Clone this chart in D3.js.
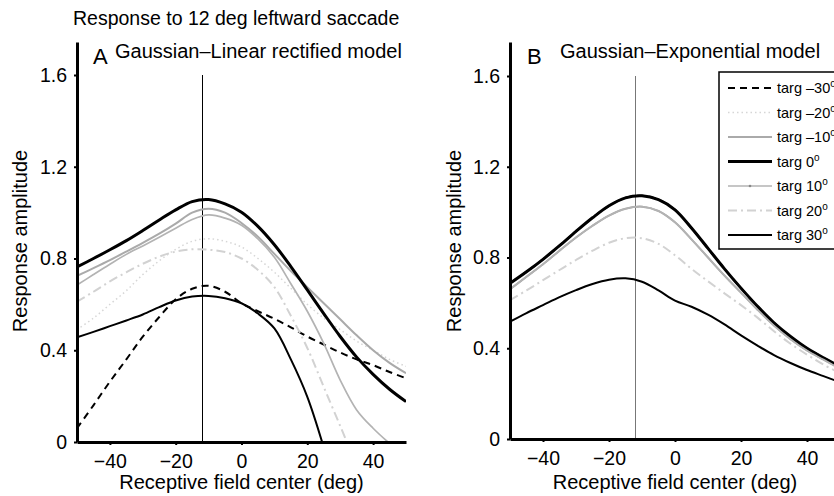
<!DOCTYPE html>
<html>
<head>
<meta charset="utf-8">
<script src="https://cdn.jsdelivr.net/npm/d3@7"></script>
<style>
  body { margin: 0; background: #fff; }
  text { font-family: "Liberation Sans", Arial, Helvetica, sans-serif; fill: #000; }
</style>
</head>
<body>
<script>
// Receptive field centres (deg) where the curves were read
const rfCenter = [-50, -45, -40, -35, -30, -25, -20, -15, -10, -5, 0, 5, 10, 15, 20, 25, 30, 35, 40, 45, 50];

const targetLabels = ["targ \u201330", "targ \u201320", "targ \u201310", "targ 0", "targ 10", "targ 20", "targ 30"];

// Panel A: Gaussian-Linear rectified model (null = rectified to zero)
const linTargM30 = [0.06, 0.16, 0.263, 0.36, 0.459, 0.545, 0.622, 0.668, 0.681, 0.655, 0.605, 0.57, 0.537, 0.50, 0.46, 0.425, 0.39, 0.36, 0.335, 0.305, 0.278];
const linTargM20 = [0.49, 0.54, 0.60, 0.66, 0.73, 0.79, 0.84, 0.875, 0.886, 0.875, 0.85, 0.80, 0.74, 0.67, 0.60, 0.54, 0.49, 0.44, 0.40, 0.36, 0.33];
const linTargM10 = [0.724, 0.758, 0.793, 0.83, 0.868, 0.908, 0.952, 1.0, 1.017, 1.0, 0.955, 0.895, 0.82, 0.745, 0.675, 0.605, 0.535, 0.465, 0.40, 0.345, 0.30];
const linTarg0   = [0.763, 0.80, 0.838, 0.878, 0.922, 0.968, 1.012, 1.048, 1.057, 1.038, 1.002, 0.94, 0.86, 0.765, 0.663, 0.56, 0.46, 0.37, 0.295, 0.23, 0.176];
const linTargP10 = [0.684, 0.73, 0.775, 0.818, 0.855, 0.893, 0.932, 0.97, 0.99, 0.976, 0.945, 0.885, 0.805, 0.69, 0.57, 0.43, 0.27, 0.14, 0.06, null, null];
const linTargP20 = [0.612, 0.655, 0.70, 0.74, 0.777, 0.808, 0.83, 0.84, 0.838, 0.828, 0.80, 0.75, 0.675, 0.55, 0.41, 0.24, 0.07, null, null, null, null];
const linTargP30 = [0.456, 0.48, 0.505, 0.53, 0.556, 0.588, 0.617, 0.634, 0.637, 0.627, 0.605, 0.56, 0.495, 0.36, 0.197, null, null, null, null, null, null];
// where each rectified curve reaches zero
const linZeroAt = [null, null, null, null, 44.5, 32, 24.5];

// Panel B: Gaussian-Exponential model
const expTargM30 = [0.686, 0.737, 0.792, 0.852, 0.915, 0.975, 1.028, 1.063, 1.072, 1.055, 1.01, 0.93, 0.84, 0.75, 0.665, 0.585, 0.512, 0.452, 0.40, 0.358, 0.32];
const expTargM20 = [0.66, 0.715, 0.77, 0.83, 0.888, 0.94, 0.985, 1.015, 1.024, 1.005, 0.955, 0.88, 0.80, 0.72, 0.645, 0.57, 0.50, 0.44, 0.39, 0.35, 0.31];
const expTargM10 = [0.66, 0.715, 0.77, 0.83, 0.888, 0.94, 0.985, 1.015, 1.024, 1.005, 0.955, 0.88, 0.80, 0.72, 0.645, 0.57, 0.50, 0.44, 0.39, 0.35, 0.31];
const expTarg0   = [0.686, 0.737, 0.792, 0.852, 0.915, 0.975, 1.028, 1.063, 1.072, 1.055, 1.01, 0.93, 0.84, 0.75, 0.665, 0.585, 0.512, 0.452, 0.40, 0.358, 0.32];
const expTargP10 = [0.66, 0.715, 0.77, 0.83, 0.888, 0.94, 0.985, 1.015, 1.024, 1.005, 0.955, 0.88, 0.80, 0.72, 0.645, 0.57, 0.50, 0.44, 0.39, 0.35, 0.31];
const expTargP20 = [0.612, 0.655, 0.70, 0.745, 0.789, 0.83, 0.865, 0.885, 0.885, 0.86, 0.81, 0.75, 0.695, 0.642, 0.59, 0.535, 0.475, 0.42, 0.372, 0.328, 0.29];
const expTargP30 = [0.517, 0.555, 0.59, 0.625, 0.656, 0.683, 0.702, 0.708, 0.693, 0.655, 0.61, 0.583, 0.548, 0.505, 0.457, 0.412, 0.37, 0.335, 0.304, 0.277, 0.25];
const expZeroAt = [null, null, null, null, null, null, null];

const saccadeX = -12;
const xTicks = [-40, -20, 0, 20, 40];
const yTicks = [0, 0.4, 0.8, 1.2, 1.6];

// line styles, one per target
const styles = [
    { stroke: "#000", width: 2, dash: "7,5" },
    { stroke: "#d6d6d6", width: 1.5, dash: "1.5,3" },
    { stroke: "#aaa", width: 2, dash: null },
    { stroke: "#000", width: 3, dash: null },
    { stroke: "#b3b3b3", width: 1.7, dash: null },
    { stroke: "#d2d2d2", width: 2, dash: "9,4,2,4" },
    { stroke: "#000", width: 2, dash: null }
];

const width = 834, height = 496;
const svg = d3.select("body")
    .append("svg")
    .attr("width", width)
    .attr("height", height);

svg.append("text")
    .attr("x", 73)
    .attr("y", 25)
    .attr("font-size", 19.5)
    .text("Response to 12 deg leftward saccade");

const panels = [
    { left: 77, right: 406, zeroY: 442, topY: 75, axisTop: 42,
      series: [linTargM30, linTargM20, linTargM10, linTarg0, linTargP10, linTargP20, linTargP30],
      zeroAt: linZeroAt, letter: "A", letterX: 93, title: "Gaussian\u2013Linear rectified model", titleX: 115,
      vline: "#000", ylabelX: 27 },
    { left: 510, right: 840, zeroY: 439, topY: 76, axisTop: 42,
      series: [expTargM30, expTargM20, expTargM10, expTarg0, expTargP10, expTargP20, expTargP30],
      zeroAt: expZeroAt, letter: "B", letterX: 527, title: "Gaussian\u2013Exponential model", titleX: 560,
      vline: "#777", ylabelX: 461 }
];

panels.forEach((p, pi) => {
    const x = d3.scaleLinear().domain([-50, 50]).range([p.left, p.right]);
    const y = d3.scaleLinear().domain([0, 1.6]).range([p.zeroY, p.topY]);
    const yAxisScale = y.copy().domain([0, y.invert(p.axisTop)]).range([p.zeroY, p.axisTop]);

    const g = svg.append("g");

    // clip to plot area
    g.append("clipPath").attr("id", `clip${pi}`)
        .append("rect")
        .attr("x", p.left).attr("y", p.axisTop)
        .attr("width", p.right - p.left).attr("height", p.zeroY - p.axisTop);

    // vertical line at the saccade amplitude
    g.append("line")
        .attr("x1", x(saccadeX)).attr("x2", x(saccadeX))
        .attr("y1", y(1.6)).attr("y2", y(0))
        .attr("stroke", p.vline)
        .attr("stroke-width", 1)
        .attr("shape-rendering", "crispEdges");

    const line = d3.line()
        .x(d => x(d[0]))
        .y(d => y(d[1]))
        .curve(d3.curveCatmullRom.alpha(0.5));

    const curves = g.append("g").attr("clip-path", `url(#clip${pi})`);
    p.series.forEach((vals, i) => {
        const pts = rfCenter.map((c, j) => [c, vals[j]]).filter(d => d[1] !== null);
        if (p.zeroAt[i] !== null) pts.push([p.zeroAt[i], 0]);
        curves.append("path")
            .datum(pts)
            .attr("d", line)
            .attr("fill", "none")
            .attr("stroke", styles[i].stroke)
            .attr("stroke-width", styles[i].width)
            .attr("stroke-dasharray", styles[i].dash);
    });

    // axes
    const xAxis = g.append("g")
        .attr("transform", `translate(0,${p.zeroY})`)
        .call(d3.axisBottom(x).tickValues(xTicks).tickSize(3).tickSizeOuter(0).tickPadding(9));
    const yAxis = g.append("g")
        .attr("transform", `translate(${p.left},0)`)
        .call(d3.axisLeft(yAxisScale).tickValues(yTicks).tickSize(3).tickSizeOuter(0).tickPadding(7)
            .tickFormat(d => d === 0 ? "0" : d3.format(".1f")(d)));
    [xAxis, yAxis].forEach(a => {
        a.select(".domain").attr("stroke", "#000").attr("stroke-width", 3);
        a.selectAll(".tick line").attr("stroke", "#000").attr("stroke-width", 2);
        a.selectAll(".tick text").attr("font-size", 19.5).attr("fill", "#000")
            .attr("font-family", "Liberation Sans, Arial, sans-serif");
    });

    // panel letter and title
    g.append("text").attr("x", p.letterX).attr("y", 64).attr("font-size", 22).text(p.letter);
    g.append("text").attr("x", p.titleX).attr("y", 58).attr("font-size", 20).text(p.title);

    // axis labels
    g.append("text")
        .attr("transform", `translate(${p.ylabelX},241) rotate(-90)`)
        .attr("text-anchor", "middle")
        .attr("font-size", 20)
        .text("Response amplitude");
    g.append("text")
        .attr("x", x(0))
        .attr("y", 489)
        .attr("text-anchor", "middle")
        .attr("font-size", 20)
        .text("Receptive field center (deg)");
});

// Legend (panel B)
const legend = svg.append("g");
legend.append("rect")
    .attr("x", 719).attr("y", 72)
    .attr("width", 140).attr("height", 177)
    .attr("fill", "#fff")
    .attr("stroke", "#000")
    .attr("stroke-width", 1.5);

targetLabels.forEach((lab, i) => {
    const ly = 88 + i * 24.5;
    legend.append("line")
        .attr("x1", 728).attr("x2", 772)
        .attr("y1", ly).attr("y2", ly)
        .attr("stroke", styles[i].stroke)
        .attr("stroke-width", styles[i].width)
        .attr("stroke-dasharray", styles[i].dash);
    if (i === 4) {
        legend.append("circle").attr("cx", 750).attr("cy", ly).attr("r", 1.3).attr("fill", "#888");
    }
    const t = legend.append("text")
        .attr("x", 777)
        .attr("y", ly + 5)
        .attr("font-size", 14.5)
        .text(lab);
    t.append("tspan")
        .attr("font-size", 10)
        .attr("dy", -6)
        .text("o");
});
</script>
</body>
</html>
